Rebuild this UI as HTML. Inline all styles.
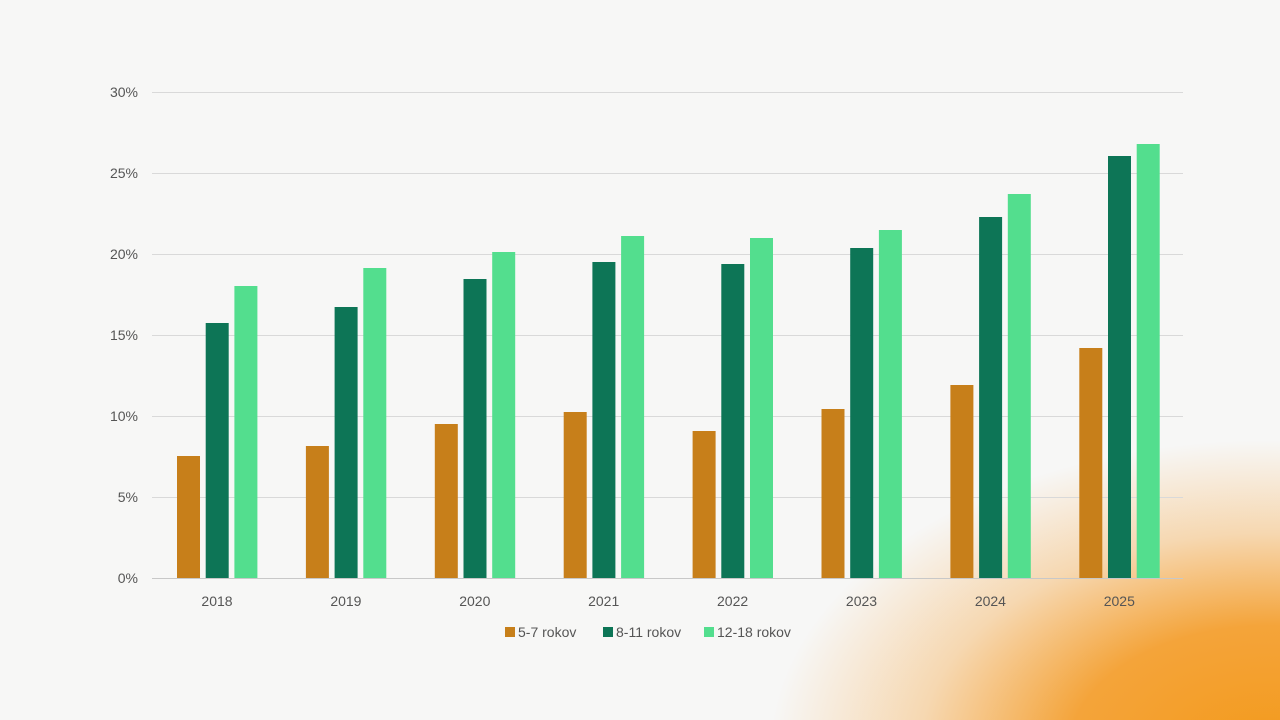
<!DOCTYPE html>
<html><head><meta charset="utf-8"><style>
html,body{margin:0;padding:0;width:1280px;height:720px;overflow:hidden;background:#f7f7f6;}
.bg{position:absolute;left:0;top:0;width:1280px;height:720px;
background:radial-gradient(ellipse 500px 310px at 1270px 750px, #f39a1c 0%, #f4a43a 40%, rgba(246,190,120,0.55) 70%, rgba(247,247,246,0) 100%);}
svg{position:absolute;left:0;top:0;font-family:"Liberation Sans",sans-serif;}
</style></head><body><div class="bg"></div>
<svg width="1280" height="720" viewBox="0 0 1280 720">
<g stroke="#d9d9d9" stroke-width="1">
<line x1="152" x2="1183" y1="92.5" y2="92.5"/><line x1="152" x2="1183" y1="173.5" y2="173.5"/>
<line x1="152" x2="1183" y1="254.5" y2="254.5"/><line x1="152" x2="1183" y1="335.5" y2="335.5"/>
<line x1="152" x2="1183" y1="416.5" y2="416.5"/><line x1="152" x2="1183" y1="497.5" y2="497.5"/>
<line x1="152" x2="1183" y1="578.5" y2="578.5" stroke="#c8c8c8"/>
</g>
<g font-size="14" fill="#555" text-anchor="end">
<text x="138" y="97">30%</text><text x="138" y="178">25%</text><text x="138" y="259">20%</text>
<text x="138" y="340">15%</text><text x="138" y="421">10%</text><text x="138" y="502">5%</text><text x="138" y="583">0%</text>
</g>
<g id="bars"></g>
<g font-size="14" fill="#555" text-anchor="middle" id="xl"></g>
<g font-size="14" fill="#555">
<rect x="505" y="627" width="10" height="10" fill="#c77f1a"/><text x="518" y="637">5-7 rokov</text>
<rect x="603" y="627" width="10" height="10" fill="#0d7556"/><text x="616" y="637">8-11 rokov</text>
<rect x="704" y="627" width="10" height="10" fill="#53de8e"/><text x="717" y="637">12-18 rokov</text>
</g>
</svg>
<script>
var d=[[2018,456,323,286],[2019,446,307,268],[2020,424,279,252],[2021,412,262,236],[2022,431,264,238],[2023,409,248,230],[2024,385,217,194],[2025,348,156,144]];
var c=["#c77f1a","#0d7556","#53de8e"],s="",t="";
d.forEach(function(r,i){var x0=177+128.9*i;
for(var k=0;k<3;k++){var x=x0+k*28.7;s+='<rect x="'+x.toFixed(1)+'" y="'+r[k+1]+'" width="23" height="'+(578-r[k+1])+'" fill="'+c[k]+'"/>';}
t+='<text x="'+(x0+40).toFixed(1)+'" y="606">'+r[0]+'</text>';});
document.getElementById("bars").innerHTML=s;document.getElementById("xl").innerHTML=t;
</script>
</body></html>
